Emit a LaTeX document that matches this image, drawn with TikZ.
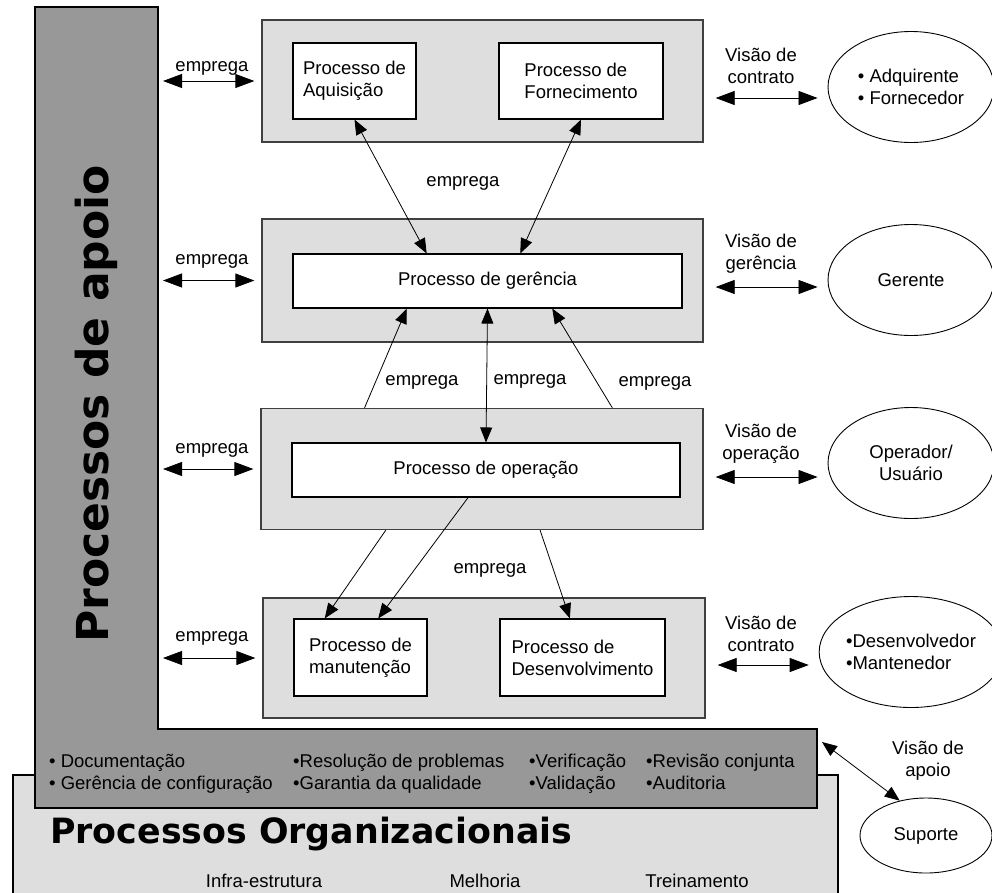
\documentclass[tikz,border=0pt]{standalone}
\usepackage{fontspec}
\setmainfont{Liberation Sans}
\newfontfamily\titlefont{DejaVu Sans}
\usetikzlibrary{arrows.meta,calc,shapes.geometric}

\definecolor{apoiogray}{RGB}{152,152,152}
\definecolor{boxgray}{RGB}{222,222,222}

\begin{document}
\begin{tikzpicture}[x=1pt,y=-1pt,
  font=\fontsize{18.5}{22}\selectfont,
  grupo/.style={draw=black!75,line width=1.3pt,fill=boxgray,inner sep=0pt},
  processo/.style={draw=black,line width=1.1pt,fill=white,inner sep=0pt,align=left},
  ator/.style={draw=black,line width=0.9pt,ellipse,minimum width=166pt,minimum height=111pt,inner sep=0pt},
  seta/.style={line width=0.8pt,-{Triangle[length=15pt,width=12pt]}},
  setas/.style={line width=0.8pt,{Triangle[length=15pt,width=12pt]}-{Triangle[length=15pt,width=12pt]}},
  visao/.style={line width=0.8pt,{Triangle[length=19pt,width=14pt]}-{Triangle[length=19pt,width=14pt]}},
  rotulo/.style={inner sep=0pt,align=center},
  item/.style={inner sep=0pt,anchor=base west}]
\clip (0,0) rectangle (992,892);

% processos organizacionais e de apoio
\draw[line width=1.6pt,fill=boxgray] (13,775) rectangle (838,900);
\draw[line width=1.6pt,fill=apoiogray] (35,7) -- (158,7) -- (158,729) -- (817,729)
  -- (817,808) -- (35,808) -- cycle;
\node[rotate=90,anchor=base,font=\titlefont\bfseries\fontsize{44}{50}\selectfont]
  (apoio) at (108,404) {Processos de apoio};
\node[anchor=base west,inner sep=0pt,font=\titlefont\bfseries\fontsize{34.8}{40}\selectfont]
  (organiz) at (50,843) {Processos Organizacionais};

\node[item] (ap1) at (49,767) {• Documentação};
\node[item] (ap2) at (49,789) {• Gerência de configuração};
\node[item] (ap3) at (293,767) {•Resolução de problemas};
\node[item] (ap4) at (293,789) {•Garantia da qualidade};
\node[item] (ap5) at (529,767) {•Verificação};
\node[item] (ap6) at (529,789) {•Validação};
\node[item] (ap7) at (646,767) {•Revisão conjunta};
\node[item] (ap8) at (646,789) {•Auditoria};

\node[anchor=base] (org1) at (264,887) {Infra-estrutura};
\node[anchor=base] (org2) at (485,887) {Melhoria};
\node[anchor=base] (org3) at (697,887) {Treinamento};

% processos fundamentais
\node[grupo,minimum width=441pt,minimum height=122pt] (g1) at (482.5,81) {};
\node[processo,minimum width=123pt,minimum height=76pt] (aqu) at (354.5,81) {Processo de\\Aquisição};
\node[processo,minimum width=164pt,minimum height=76pt] (for) at (581,81) {Processo de\\Fornecimento};

\node[grupo,minimum width=441pt,minimum height=123pt] (g2) at (482.5,280.5) {};
\node[processo,minimum width=389pt,minimum height=54pt] (ger) at (487.5,281) {Processo de gerência};

\node[grupo,minimum width=442pt,minimum height=121pt] (g3) at (482,469) {};
\node[processo,minimum width=388pt,minimum height=54pt] (op) at (486,470) {Processo de operação};

\node[grupo,minimum width=442pt,minimum height=120pt] (g4) at (484,658) {};
\node[processo,minimum width=133pt,minimum height=77pt] (man) at (360.5,657.5) {Processo de\\manutenção};
\node[processo,minimum width=165pt,minimum height=77pt] (dev) at (582.5,657.5) {Processo de\\Desenvolvimento};

% atores
\node[ator,align=left] (e1) at (911,87) {• Adquirente\\• Fornecedor};
\node[ator] (e2) at (911,280) {Gerente};
\node[ator,align=center] (e3) at (911,463) {Operador/\\Usuário};
\node[ator,align=left] (e4) at (911,652) {•Desenvolvedor\\•Mantenedor};
\node[ator,minimum width=132pt,minimum height=75pt] (sup) at (926,835.5) {Suporte};

% emprega (apoio)
\coordinate (barra) at (163,0);
\draw[visao,shorten >=7pt] (g1.west -| barra) -- (g1.west);
\draw[visao,shorten >=7pt] (g2.west -| barra) -- (g2.west);
\draw[visao,shorten >=7pt] (g3.west -| barra) -- (g3.west);
\draw[visao,shorten >=7pt] (g4.west -| barra) -- (g4.west);
\node (emp1) at (212,68) {emprega};
\node (emp2) at (212,261) {emprega};
\node (emp3) at (212,450) {emprega};
\node (emp4) at (212,638) {emprega};

% emprega (entre processos)
\draw[setas] (aqu.south) -- ($(ger.north west)!.344!(ger.north east)$);
\draw[setas] (for.south) -- ($(ger.north west)!.584!(ger.north east)$);
\node (emp5) at (463,183) {emprega};

\draw[seta] ($(g3.north west)!.235!(g3.north east)$) -- ($(ger.south west)!.293!(ger.south east)$);
\draw[setas] (ger.south) -- (op.north);
\draw[seta] ($(g3.north west)!.794!(g3.north east)$) -- ($(ger.south west)!.666!(ger.south east)$);
\node (emp6) at (422,382) {emprega};
\node (emp7) at (530,381) {emprega};
\node (emp8) at (655,383) {emprega};

\draw[seta] ($(g3.south west)!.283!(g3.south east)$) -- ($(man.north west)!.233!(man.north east)$);
\draw[seta] ($(op.south west)!.454!(op.south east)$) -- ($(man.north west)!.632!(man.north east)$);
\draw[seta] ($(g3.south west)!.631!(g3.south east)$) -- ($(dev.north west)!.424!(dev.north east)$);
\node (emp9) at (490,570) {emprega};

% visoes
\coordinate (v1) at (760,98);
\coordinate (v2) at (760,287);
\coordinate (v3) at (760,477);
\coordinate (v4) at (760,665);
\draw[visao,shorten <=12pt,shorten >=10pt] (g1.east |- v1) -- (e1.west |- v1);
\draw[visao,shorten <=12pt,shorten >=10pt] (g2.east |- v2) -- (e2.west |- v2);
\draw[visao,shorten <=12pt,shorten >=10pt] (g3.east |- v3) -- (e3.west |- v3);
\draw[visao,shorten <=12pt,shorten >=10pt] (g4.east |- v4) -- (e4.west |- v4);
\node[rotulo] (vis1) at (761,66) {Visão de\\contrato};
\node[rotulo] (vis2) at (761,254) {Visão de\\gerência};
\node[rotulo] (vis3) at (761,444) {Visão de\\operação};
\node[rotulo] (vis4) at (761,633.5) {Visão de\\contrato};

\coordinate (canto) at (822,742);
\draw[setas] (canto) -- (sup.127);
\node[rotulo] (vis5) at (928,761) {Visão de\\apoio};
\end{tikzpicture}
\end{document}
